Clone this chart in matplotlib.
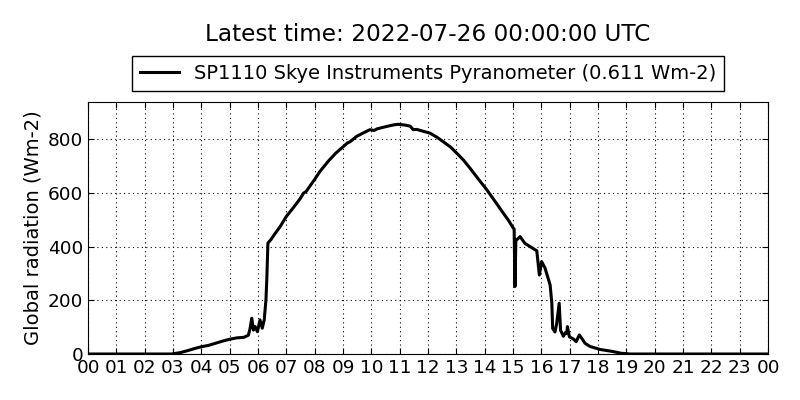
import matplotlib
matplotlib.use("Agg")
import matplotlib.pyplot as plt

# hours since 00 UTC and global radiation (W m-2)
hours = [
    0.0, 2.95, 3.25, 3.5, 3.75, 4.0, 4.25, 4.5, 4.75, 5.0, 5.25, 5.5,
    5.66, 5.72, 5.78, 5.84, 5.9, 5.98, 6.07, 6.15, 6.22, 6.28, 6.31, 6.35,
    6.45, 6.6, 6.78, 7.0, 7.25, 7.5, 7.6, 7.7, 8.0, 8.19, 8.5, 8.75,
    9.01, 9.15, 9.25, 9.48, 9.7, 9.95, 10.1, 10.2, 10.54, 10.8, 10.95, 11.2,
    11.37, 11.48, 11.6, 12.07, 12.3, 12.54, 12.8, 13.01, 13.25, 13.48, 13.75, 14.07,
    14.3, 14.66, 14.85, 15.0, 15.04, 15.07, 15.1, 15.13, 15.25, 15.42, 15.66, 15.84,
    15.93, 16.01, 16.13, 16.31, 16.37, 16.4, 16.48, 16.54, 16.63, 16.68, 16.78, 16.85,
    16.9, 16.92, 16.99, 17.13, 17.23, 17.34, 17.43, 17.54, 17.72, 18.07, 18.54, 18.8,
    19.13, 24.0,
]
radiation = [
    0, 0, 5, 12, 20, 27, 32, 40, 48, 55, 60, 62,
    70, 95, 133, 89, 102, 83, 127, 96, 127, 201, 276, 413,
    425, 448, 474, 512, 545, 580, 598, 605, 650, 680, 720, 748,
    772, 785, 790, 810, 822, 835, 832, 838, 847, 853, 855, 852,
    848, 835, 836, 822, 808, 790, 770, 748, 722, 692, 655, 612,
    578, 524, 496, 470, 465, 251, 420, 425, 437, 412, 396, 384,
    294, 344, 320, 257, 190, 95, 82, 112, 189, 88, 66, 80,
    76, 102, 64, 56, 46, 71, 58, 40, 28, 17, 9, 3,
    0, 0,
]
tick_labels = ["%02d" % (h % 24) for h in range(25)]

title = "Latest time: 2022-07-26 00:00:00 UTC"
series_label = "SP1110 Skye Instruments Pyranometer (0.611 Wm-2)"

fig = plt.figure(figsize=(8, 4), dpi=100)
ax = fig.add_axes([0.11, 0.115, 0.85, 0.63])

ax.plot(hours, radiation, color="black", lw=2.2, label=series_label)

ax.set_xlim(0, 24)
ax.set_ylim(0, 938)
ax.set_xticks(range(25))
ax.set_xticklabels(tick_labels)
ax.set_yticks([0, 200, 400, 600, 800])
ax.tick_params(direction="in", top=True, right=True, labelsize=13.3, length=4)
ax.grid(True, color="black", linestyle=(0, (1, 3)), linewidth=0.8)
ax.set_ylabel("Global radiation (Wm-2)", fontsize=14)

leg = ax.legend(loc="lower center", bbox_to_anchor=(0.5, 1.045), borderaxespad=0,
                fontsize=14, fancybox=False, framealpha=1, handlelength=2)
leg.get_frame().set_edgecolor("black")

fig.text(0.535, 0.913, title, ha="center", va="center", fontsize=16.7)

fig.savefig("out.png", dpi=100)
